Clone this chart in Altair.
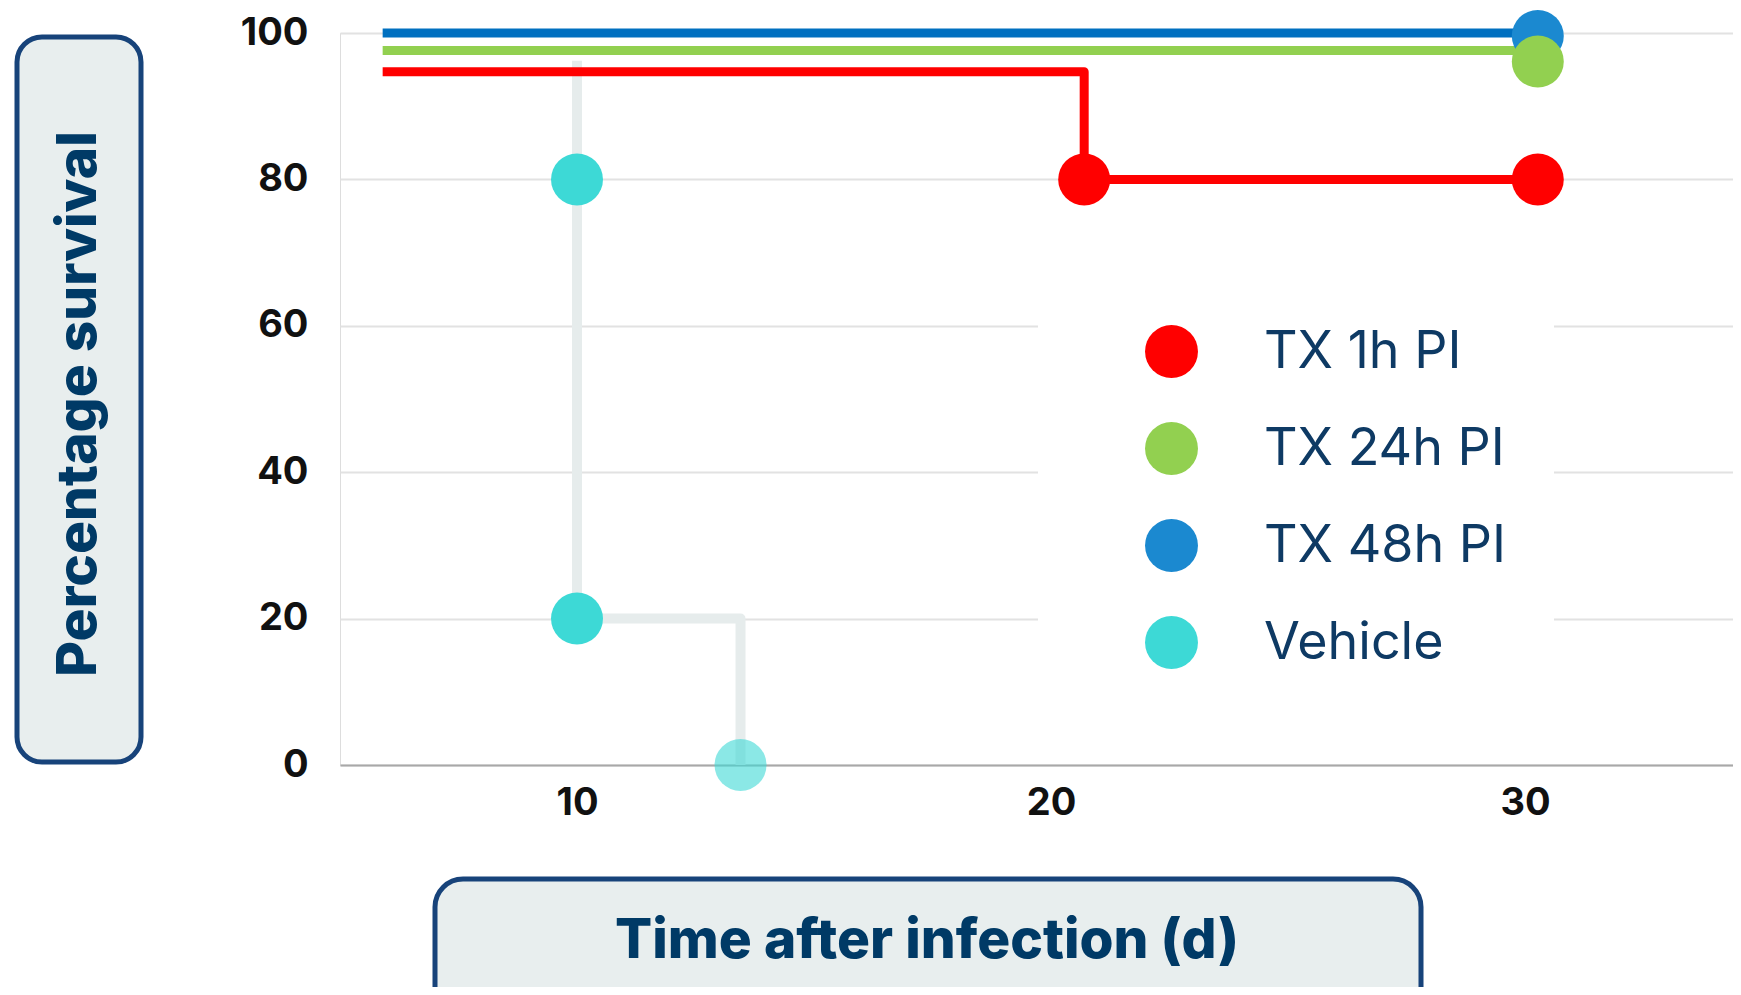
import altair as alt
import pandas as pd

# ---- data ----
series_names = ["TX 1h PI", "TX 24h PI", "TX 48h PI", "Vehicle"]

tx1_x = [5.9, 20.7, 30.27]
tx1_y = [94.7, 80, 80]
tx1_marker = [0, 1, 1]

tx24_x = [5.9, 30.27]
tx24_y = [97.6, 96.1]
tx24_marker = [0, 1]

tx48_x = [5.9, 30.27]
tx48_y = [100, 99.6]
tx48_marker = [0, 1]

veh_x = [10, 10, 10, 13.45]
veh_y = [96.2, 80, 20, 0]
veh_marker = [0, 1, 1, 1]
veh_opacity = [1, 1, 1, 0.6]

marker_colors = ["#ff0000", "#92d050", "#1b89d0", "#3dd9d6"]
line_colors = ["#ff0000", "#92d050", "#0070c0", "#e6ecec"]

y_ticks = [0, 20, 40, 60, 80, 100]
x_ticks = [10, 20, 30]

# ---- build table ----
def rows(name, xs, ys, marks, ops=None):
    out = []
    for i, (xv, yv, m) in enumerate(zip(xs, ys, marks)):
        out.append({
            "series": name, "x": xv, "y": yv, "marker": m, "idx": i,
            "opacity": 1 if ops is None else ops[i],
            "line_color": line_colors[series_names.index(name)],
        })
    return out

# drawing order: vehicle, 48h, 24h, 1h
all_rows = (rows("Vehicle", veh_x, veh_y, veh_marker, veh_opacity)
            + rows("TX 48h PI", tx48_x, tx48_y, tx48_marker)
            + rows("TX 24h PI", tx24_x, tx24_y, tx24_marker)
            + rows("TX 1h PI", tx1_x, tx1_y, tx1_marker))
df = pd.DataFrame(all_rows)
df_veh = df[df.series == "Vehicle"]
df_tx = df[df.series != "Vehicle"]
df_pts = df[df.marker == 1]

FONT = "Inter"
W, H = 1393, 732
X_MAX = 5 + W / 47.4

xs = alt.Scale(domain=[5, X_MAX], nice=False, zero=False)
ys = alt.Scale(domain=[0, 100], nice=False)

x_axis = alt.Axis(values=x_ticks, grid=False, domain=True, domainColor="#a8a8a8",
                  domainWidth=2, ticks=False, tickSize=0, labelPadding=19,
                  labelFont=FONT, labelFontSize=38, labelFontWeight=700,
                  labelColor="#111111", format="d", title=None)
y_axis = alt.Axis(values=y_ticks, grid=True, gridColor="#e2e2e2", gridWidth=2,
                  domain=False, ticks=False, tickSize=0, labelPadding=32,
                  labelFont=FONT, labelFontSize=38, labelFontWeight=700,
                  labelColor="#111111", format="d", title=None)

veh_line = alt.Chart(df_veh).mark_line(
    interpolate="step-after", strokeWidth=10, strokeJoin="round"
).encode(
    x=alt.X("x:Q", scale=xs, axis=x_axis),
    y=alt.Y("y:Q", scale=ys, axis=y_axis),
    stroke=alt.Stroke("line_color:N", scale=None),
    detail="series:N",
    order="idx:Q",
)

tx_lines = alt.Chart(df_tx).mark_line(
    interpolate="step-after", strokeWidth=9, strokeJoin="round"
).encode(
    x=alt.X("x:Q", scale=xs),
    y=alt.Y("y:Q", scale=ys),
    stroke=alt.Stroke("line_color:N", scale=None),
    detail="series:N",
    order="idx:Q",
)

# white box behind legend (interrupts gridlines)
legend_bg = alt.Chart(alt.Data(values=[{"a": 1}])).mark_rect(
    fill="white"
).encode(x=alt.value(698), x2=alt.value(1214), y=alt.value(245), y2=alt.value(660))

points = alt.Chart(df_pts).mark_point(
    filled=True, size=2700, strokeWidth=0, shape="circle"
).encode(
    x=alt.X("x:Q", scale=xs),
    y=alt.Y("y:Q", scale=ys),
    color=alt.Color(
        "series:N",
        scale=alt.Scale(domain=series_names, range=marker_colors),
        legend=alt.Legend(
            orient="none", legendX=805, legendY=292, direction="vertical",
            title=None, symbolType="circle", symbolSize=2800,
            symbolStrokeWidth=0, symbolOpacity=1, labelFont=FONT,
            labelFontSize=52, labelFontWeight=400, labelColor="#0e3a64",
            labelOffset=66, rowPadding=44, labelLimit=600, padding=0,
        ),
    ),
    opacity=alt.Opacity("opacity:Q", scale=None),
)

one = alt.Data(values=[{"a": 1}])
BOX_FILL = "#e8eeee"
BOX_STROKE = "#17437a"
TITLE_COLOR = "#003a66"

ybox = alt.Chart(one).mark_rect(
    fill=BOX_FILL, stroke=BOX_STROKE, strokeWidth=5, cornerRadius=25
).encode(x=alt.value(-323), x2=alt.value(-199), y=alt.value(4), y2=alt.value(729))

ytitle = alt.Chart(one).mark_text(
    angle=270, align="center", baseline="middle", font=FONT, fontSize=55,
    fontWeight=800, color=TITLE_COLOR
).encode(x=alt.value(-261), y=alt.value(371), text=alt.value("Percentage survival"))

# extends past the bottom edge of the picture, as in the reference
xbox = alt.Chart(one).mark_rect(
    fill=BOX_FILL, stroke=BOX_STROKE, strokeWidth=5, cornerRadius=28
).encode(x=alt.value(95), x2=alt.value(1081), y=alt.value(846), y2=alt.value(1010))

xtitle = alt.Chart(one).mark_text(
    align="center", baseline="middle", font=FONT, fontSize=55,
    fontWeight=800, color=TITLE_COLOR
).encode(x=alt.value(587), y=alt.value(908), text=alt.value("Time after infection (d)"))

chart = alt.layer(
    veh_line, tx_lines, legend_bg, points, ybox, ytitle, xbox, xtitle
).properties(
    width=W, height=H,
    autosize=alt.AutoSizeParams(type="none"),
    padding={"left": 332, "top": 25, "right": 0, "bottom": 222},
).configure_view(stroke=None).configure(background="white")

chart.save("out.html", embed_options={"renderer": "svg", "actions": False})
